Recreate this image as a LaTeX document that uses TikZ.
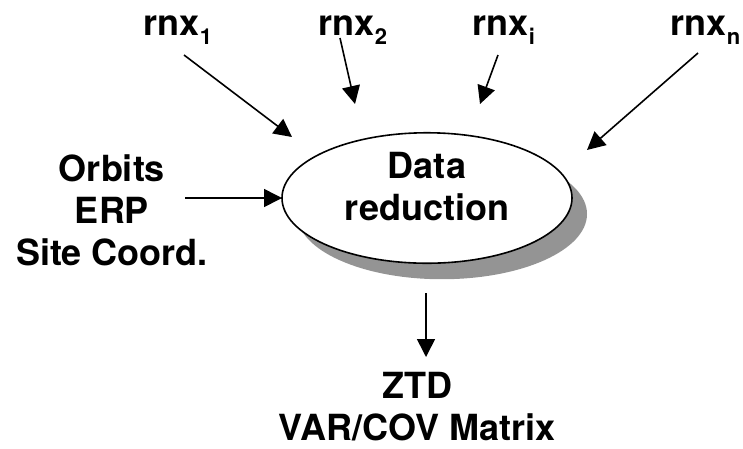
\documentclass[tikz,border=0pt]{standalone}
\usepackage{fontspec}
\setmainfont{TeX Gyre Heros}
\usetikzlibrary{arrows.meta,shapes.geometric,shadows}

\newcommand{\rnx}[1]{rnx\raisebox{-9pt}{\fontsize{22}{22}\selectfont #1}}

\begin{document}
\begin{tikzpicture}[
                    x=1pt,y=-1pt,
                    >={Triangle[length=18pt,width=18pt]},
                    line width=1.6pt,
                    font=\fontsize{36}{42}\selectfont\bfseries
                ]
                \tikzstyle{every node}=[inner sep=0pt,align=center]
                \tikzstyle{reduce}=[ellipse,draw,fill=white,minimum width=290pt,minimum height=128pt,text depth=24pt,
                    drop shadow={shadow xshift=15pt,shadow yshift=-16pt,fill=black!42,opacity=1}]

                \useasboundingbox (0,0) rectangle (743,448);

                \node[reduce] (dr) at (427,198) {Data\\reduction};

                \node[anchor=base west] (r1) at (143,35) {\rnx{1}};
                \node[anchor=base west] (r2) at (318,35) {\rnx{2}};
                \node[anchor=base west] (ri) at (472,35) {\rnx{i}};
                \node[anchor=base west] (rn) at (670,35) {\rnx{n}};

                \node[anchor=north] (orb) at (112,154) {Orbits\\ERP\\Site Coord.};
                \node[anchor=north] (ztd) at (417,371) {ZTD\\VAR/COV Matrix};

                \coordinate (r1s) at (184,55);  \coordinate (r1e) at (292,137);
                \coordinate (r2s) at (340,38);  \coordinate (r2e) at (355,104);
                \coordinate (ris) at (498,55);  \coordinate (rie) at (480,104);
                \coordinate (rns) at (698,53);  \coordinate (rne) at (587,150);
                \coordinate (orbs) at (185,198); \coordinate (orbe) at (282,198);
                \coordinate (outs) at (426,293); \coordinate (oute) at (426,357);

                \draw[->] (r1s) -- (r1e);
                \draw[->] (r2s) -- (r2e);
                \draw[->] (ris) -- (rie);
                \draw[->] (rns) -- (rne);
                \draw[->] (orbs) -- (orbe);
                \draw[->] (outs) -- (oute);

            \end{tikzpicture}
\end{document}
